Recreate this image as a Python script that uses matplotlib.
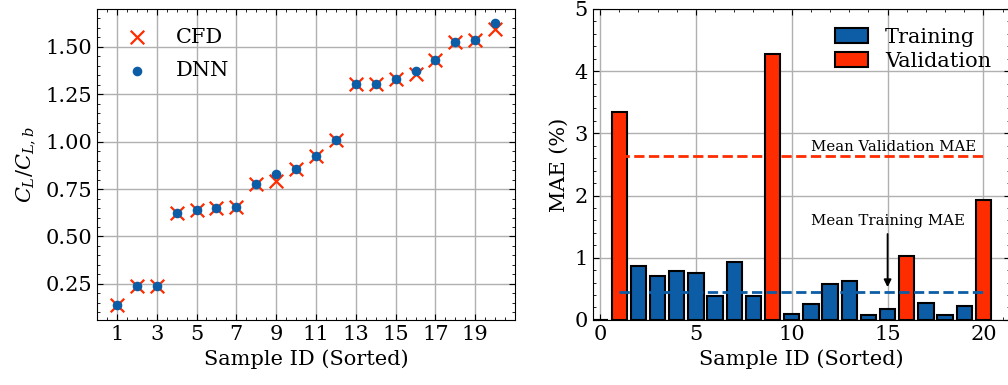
import numpy as np
import matplotlib
matplotlib.use("Agg")
import matplotlib.pyplot as plt
from matplotlib.ticker import AutoMinorLocator

# --- data ---
sample_id = np.arange(1, 21)
cl_cfd = [0.139, 0.239, 0.239, 0.623, 0.640, 0.649, 0.658, 0.777, 0.790, 0.857,
          0.925, 1.006, 1.303, 1.305, 1.331, 1.358, 1.431, 1.525, 1.535, 1.593]
cl_dnn = [0.139, 0.239, 0.239, 0.623, 0.640, 0.649, 0.658, 0.777, 0.830, 0.857,
          0.925, 1.006, 1.303, 1.305, 1.331, 1.375, 1.431, 1.525, 1.535, 1.628]

mae = [3.35, 0.87, 0.71, 0.78, 0.76, 0.39, 0.93, 0.39, 4.28, 0.10,
       0.26, 0.58, 0.63, 0.075, 0.18, 1.02, 0.27, 0.085, 0.22, 1.92]
is_val = [True, False, False, False, False, False, False, False, True, False,
          False, False, False, False, False, True, False, False, False, True]

blue = "#0C5DA5"
red = "#FF2C00"

plt.rcParams.update({
    "font.family": "serif",
    "font.serif": ["DejaVu Serif"],
    "mathtext.fontset": "dejavuserif",
    "font.size": 15,
    "xtick.direction": "in",
    "ytick.direction": "in",
    "xtick.top": True,
    "ytick.right": True,
    "xtick.major.size": 4,
    "ytick.major.size": 4,
    "xtick.minor.size": 2,
    "ytick.minor.size": 2,
    "xtick.minor.visible": True,
    "ytick.minor.visible": True,
    "axes.linewidth": 0.8,
    "grid.color": "#b0b0b0",
    "grid.linewidth": 1.0,
})

fig = plt.figure(figsize=(10.08, 3.85), dpi=100)
ax1 = fig.add_axes([0.0962, 0.169, 0.4148, 0.808])
ax2 = fig.add_axes([0.588, 0.169, 0.414, 0.808])

# left: CL comparison
ax1.scatter(sample_id, cl_cfd, marker="x", s=95, color=red, linewidths=1.6, label="CFD", zorder=3)
ax1.scatter(sample_id, cl_dnn, marker="o", s=35, color=blue, label="DNN", zorder=4)
ax1.set_xlim(0, 21)
ax1.set_ylim(0.06, 1.70)
ax1.set_xticks(np.arange(1, 21, 2))
ax1.set_yticks([0.25, 0.5, 0.75, 1.0, 1.25, 1.5])
ax1.xaxis.set_minor_locator(AutoMinorLocator(4))
ax1.yaxis.set_minor_locator(AutoMinorLocator(5))
ax1.grid(True)
ax1.set_axisbelow(True)
ax1.set_xlabel("Sample ID (Sorted)")
ax1.set_ylabel(r"$C_L/C_{L,b}$", labelpad=6)
ax1.legend(loc="upper left", frameon=False, handletextpad=0.9, labelspacing=0.7)

# right: MAE bars
colors = [red if v else blue for v in is_val]
ax2.bar(sample_id, mae, width=0.8, color=colors, edgecolor="black", linewidth=1.5, zorder=2)
mae_arr = np.array(mae)
val_mask = np.array(is_val)
mean_val = mae_arr[val_mask].mean()
mean_train = mae_arr[~val_mask].mean()
ax2.hlines(mean_val, 1, 20, colors=red, linestyles="--", linewidth=2.0, zorder=3)
ax2.hlines(mean_train, 1, 20, colors=blue, linestyles="--", linewidth=2.0, zorder=3)
ax2.text(15.3, mean_val + 0.03, "Mean Validation MAE", fontsize=10.7, ha="center", va="bottom")
ax2.annotate("Mean Training MAE", xy=(15, mean_train + 0.03), xytext=(15, 1.47),
             fontsize=10.7, ha="center", va="bottom",
             arrowprops=dict(arrowstyle="-|>", color="black", lw=1.3))
ax2.bar([0], [0], color=blue, edgecolor="black", linewidth=1.5, label="Training")
ax2.bar([0], [0], color=red, edgecolor="black", linewidth=1.5, label="Validation")
ax2.set_xlim(-0.39, 21.39)
ax2.set_ylim(0, 5)
ax2.set_xticks([0, 5, 10, 15, 20])
ax2.xaxis.set_minor_locator(AutoMinorLocator(5))
ax2.yaxis.set_minor_locator(AutoMinorLocator(5))
ax2.grid(True)
ax2.set_axisbelow(True)
ax2.set_xlabel("Sample ID (Sorted)")
ax2.set_ylabel("MAE (%)")
ax2.legend(loc="upper right", frameon=False, labelspacing=0.25, handlelength=1.6)

fig.savefig("out.png", dpi=100)
